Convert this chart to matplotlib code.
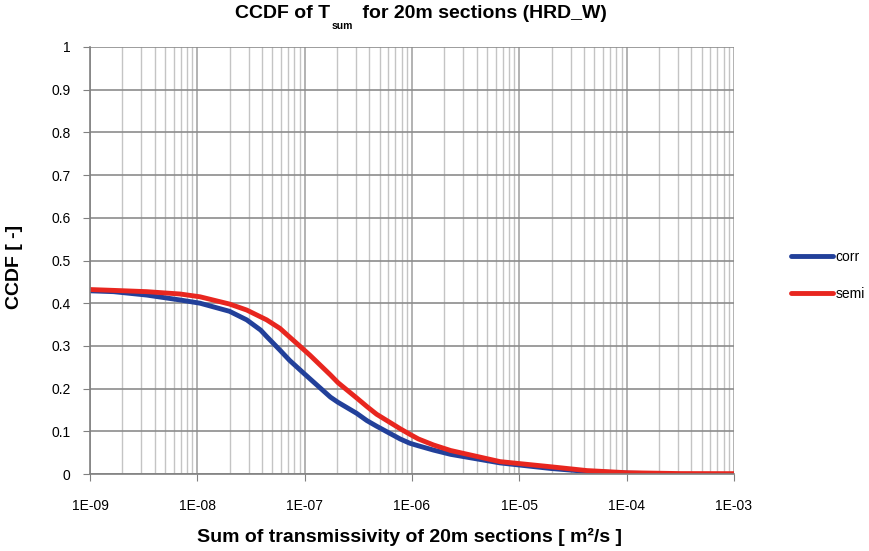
import numpy as np
import matplotlib.pyplot as plt
from matplotlib.ticker import LogLocator, FixedLocator, FuncFormatter, NullFormatter

plt.rcParams['font.family'] = ['Liberation Sans', 'DejaVu Sans']

# values (x given as log10 of transmissivity)
logt_corr = [-9.0, -8.78, -8.47, -8.16, -7.975, -7.70, -7.54, -7.41, -7.354, -7.23,
             -7.14, -7.07, -7.0, -6.76, -6.69, -6.515, -6.42, -6.33, -6.11,
             -6.02, -5.94, -5.8, -5.64, -5.18, -4.71, -4.37, -4.0, -3.69]
ccdf_corr = [0.429, 0.427, 0.419, 0.4075, 0.400, 0.381, 0.361, 0.337, 0.322, 0.290,
             0.266, 0.250, 0.234, 0.180, 0.168, 0.142, 0.125, 0.112, 0.082,
             0.072, 0.066, 0.056, 0.046, 0.026, 0.013, 0.006, 0.002, 0.0005]

logt_semi = [-9.0, -8.78, -8.47, -8.16, -7.975, -7.70, -7.54, -7.354, -7.23, -7.137,
             -7.074, -6.95, -6.76, -6.69, -6.515, -6.42, -6.33, -6.11, -6.02, -5.94,
             -5.8, -5.64, -5.18, -4.71, -4.37, -4.0, -3.5, -3.0]
ccdf_semi = [0.432, 0.430, 0.427, 0.4215, 0.415, 0.398, 0.384, 0.361, 0.341, 0.320,
             0.306, 0.278, 0.232, 0.214, 0.178, 0.158, 0.140, 0.106, 0.093, 0.082,
             0.068, 0.055, 0.029, 0.017, 0.008, 0.003, 0.001, 0.0008]

x_decades = [-9, -8, -7, -6, -5, -4, -3]
y_ticks = [0, 0.1, 0.2, 0.3, 0.4, 0.5, 0.6, 0.7, 0.8, 0.9, 1.0]

t_corr = 10.0 ** np.array(logt_corr)
t_semi = 10.0 ** np.array(logt_semi)

W, H = 870, 551
fig = plt.figure(figsize=(8.7, 5.51), dpi=100)
ax = fig.add_axes([90 / W, 1 - 474 / H, 644 / W, 427 / H])

ax.plot(t_corr, ccdf_corr, color='#22409a', lw=3.5, label='corr',
        solid_capstyle='round', solid_joinstyle='round')
ax.plot(t_semi, ccdf_semi, color='#e8261f', lw=3.5, label='semi',
        solid_capstyle='round', solid_joinstyle='round')

ax.set_xscale('log')
ax.set_xlim(1e-9, 1e-3)
ax.set_ylim(0, 1)
ax.xaxis.set_major_locator(FixedLocator(10.0 ** np.array(x_decades, dtype=float)))
ax.xaxis.set_minor_locator(LogLocator(base=10, subs=np.arange(2, 10), numticks=100))
ax.xaxis.set_minor_formatter(NullFormatter())
ax.xaxis.set_major_formatter(FuncFormatter(lambda v, p: f'1E-{-int(round(np.log10(v))):02d}'))
ax.yaxis.set_major_locator(FixedLocator(y_ticks))
ax.yaxis.set_major_formatter(FuncFormatter(lambda v, p: f'{v:.1f}'.rstrip('0').rstrip('.') if v else '0'))

ax.grid(True, which='major', axis='y', color='#8c8c8c', lw=1.2)
ax.grid(True, which='major', axis='x', color='#a6a6a6', lw=1.2)
ax.grid(True, which='minor', axis='x', color='#c4c4c4', lw=1.0)
ax.set_axisbelow(True)

for s in ['top', 'right']:
    ax.spines[s].set_visible(False)
for s in ['left', 'bottom']:
    ax.spines[s].set_color('#808080')
    ax.spines[s].set_linewidth(1.2)
ax.tick_params(which='major', length=5, color='#808080', labelsize=10)
ax.tick_params(axis='x', which='major', pad=13)
ax.tick_params(axis='y', which='major', pad=9)
ax.tick_params(which='minor', length=0)

# title built from pieces so the subscript can be small and low like the original
renderer = fig.canvas.get_renderer()
x0 = 235 / W
t1 = fig.text(x0, 1 - 18.3 / H, 'CCDF of T', fontsize=14, fontweight='bold', va='baseline')
bb = t1.get_window_extent(renderer).transformed(fig.transFigure.inverted())
t2 = fig.text(bb.x1 + 1 / W, 1 - 29 / H, 'sum', fontsize=7.5, fontweight='bold', va='baseline')
bb = t2.get_window_extent(renderer).transformed(fig.transFigure.inverted())
fig.text(bb.x1 + 4 / W, 1 - 18.3 / H, ' for 20m sections (HRD_W)', fontsize=14,
         fontweight='bold', va='baseline')

fig.text(410 / W, 1 - 537 / H, 'Sum of transmissivity of 20m sections [ m²/s ]',
         fontsize=14, fontweight='bold', ha='center', va='center')
fig.text(15 / W, 1 - 267 / H, 'CCDF [ -]', fontsize=14, fontweight='bold',
         rotation=90, ha='center', va='center')

fig.legend(loc='center left', bbox_to_anchor=(0.895, 0.50), frameon=False,
           fontsize=10, handlelength=3.0, handletextpad=0.2, labelspacing=1.7)

fig.savefig('out.png', dpi=100)
